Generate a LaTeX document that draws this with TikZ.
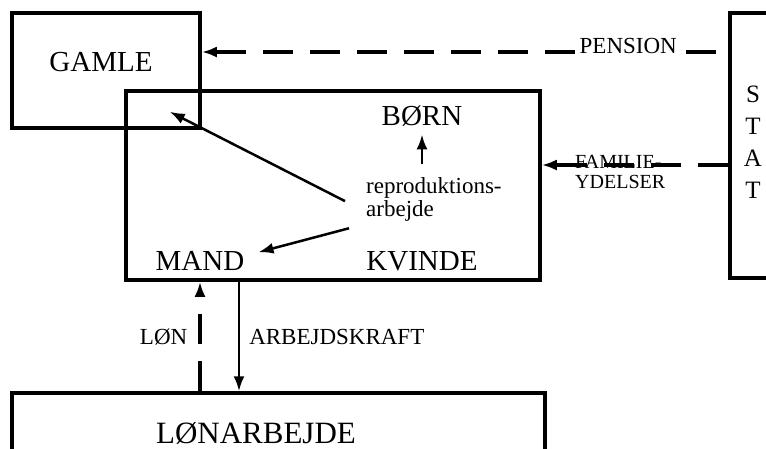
\documentclass[tikz,border=0pt]{standalone}
\usepackage{fontspec}
\setmainfont{Liberation Serif}
\usetikzlibrary{positioning,arrows.meta}

\begin{document}
\begin{tikzpicture}[x=1pt,y=-1pt,
    box/.style={draw,line width=3.5pt,inner sep=0pt},
    big/.style={inner sep=1pt,font=\fontsize{29}{31}\selectfont},
    small/.style={inner sep=1pt,font=\fontsize{23}{23}\selectfont},
    flow/.style={line width=2.5pt,-{Latex[length=15pt,width=11pt]}},
    money/.style={flow,line width=3.5pt,dash pattern=on 30pt off 17pt}]
    \useasboundingbox (0,0) rectangle (766,448);
    \clip (0,0) rectangle (766,448);

    % boxes
    \node[box,minimum width=188pt,minimum height=115pt] (gamle) at (106,70.5) {};
    \node[box,minimum width=414pt,minimum height=189pt] (family) at (333,185.5) {};
    \node[box,minimum width=90pt,minimum height=265pt] (stat) at (775,145.5) {};
    \node[box,minimum width=533pt,minimum height=90pt] (lonbox) at (278.5,438) {};

    % texts
    \node[big] (gamlelbl) at (101,62) {GAMLE};
    \node[big] (born) at (422,116) {BØRN};
    \node[big] (mand) at (200,261) {MAND};
    \node[big] (kvinde) at (422,261) {KVINDE};
    \node[big,font=\fontsize{31}{31}\selectfont] (lonlbl) at (256,433) {LØNARBEJDE};
    \node[align=center,font=\fontsize{25}{32}\selectfont] (statlbl) at (753,142) {S\\T\\A\\T};
    \node[small,align=left,anchor=north west] (repro) at (365,176) {reproduktions-\\arbejde};

    % flows
    \coordinate (pens) at (0,52);
    \draw[money,shorten <=12pt] (stat.west |- pens) -- (gamle.east |- pens)
        node[small,fill=white,pos=0.19,yshift=6pt,inner xsep=5pt] (pension) {PENSION};
    \coordinate (fam) at (0,165);
    \draw[money] (stat.west |- fam) -- (family.east |- fam);
    \node[small,align=left,anchor=west,font=\fontsize{20}{20}\selectfont] (famyd) at (574,172) {FAMILIE-\\YDELSER};
    \draw[flow,shorten <=12pt,shorten >=7pt] (repro.north -| born) -- (born.south);
    \draw[flow] ([xshift=-20pt,yshift=-2pt]repro.west) -- ([xshift=-32pt,yshift=18pt]gamle.south east);
    \draw[flow] ([xshift=-16pt,yshift=-6pt]repro.south west) -- ([xshift=13pt,yshift=-2pt]mand.north east);
    \draw[money] (lonbox.north -| mand) -- (family.south -| mand)
        node[small,midway,left=10pt] (lon) {LØN};
    \coordinate (ak) at (239,330);
    \draw[flow] (family.south -| ak) -- (lonbox.north -| ak)
        node[small,midway,right=8pt] (arbkraft) {ARBEJDSKRAFT};
\end{tikzpicture}
\end{document}
